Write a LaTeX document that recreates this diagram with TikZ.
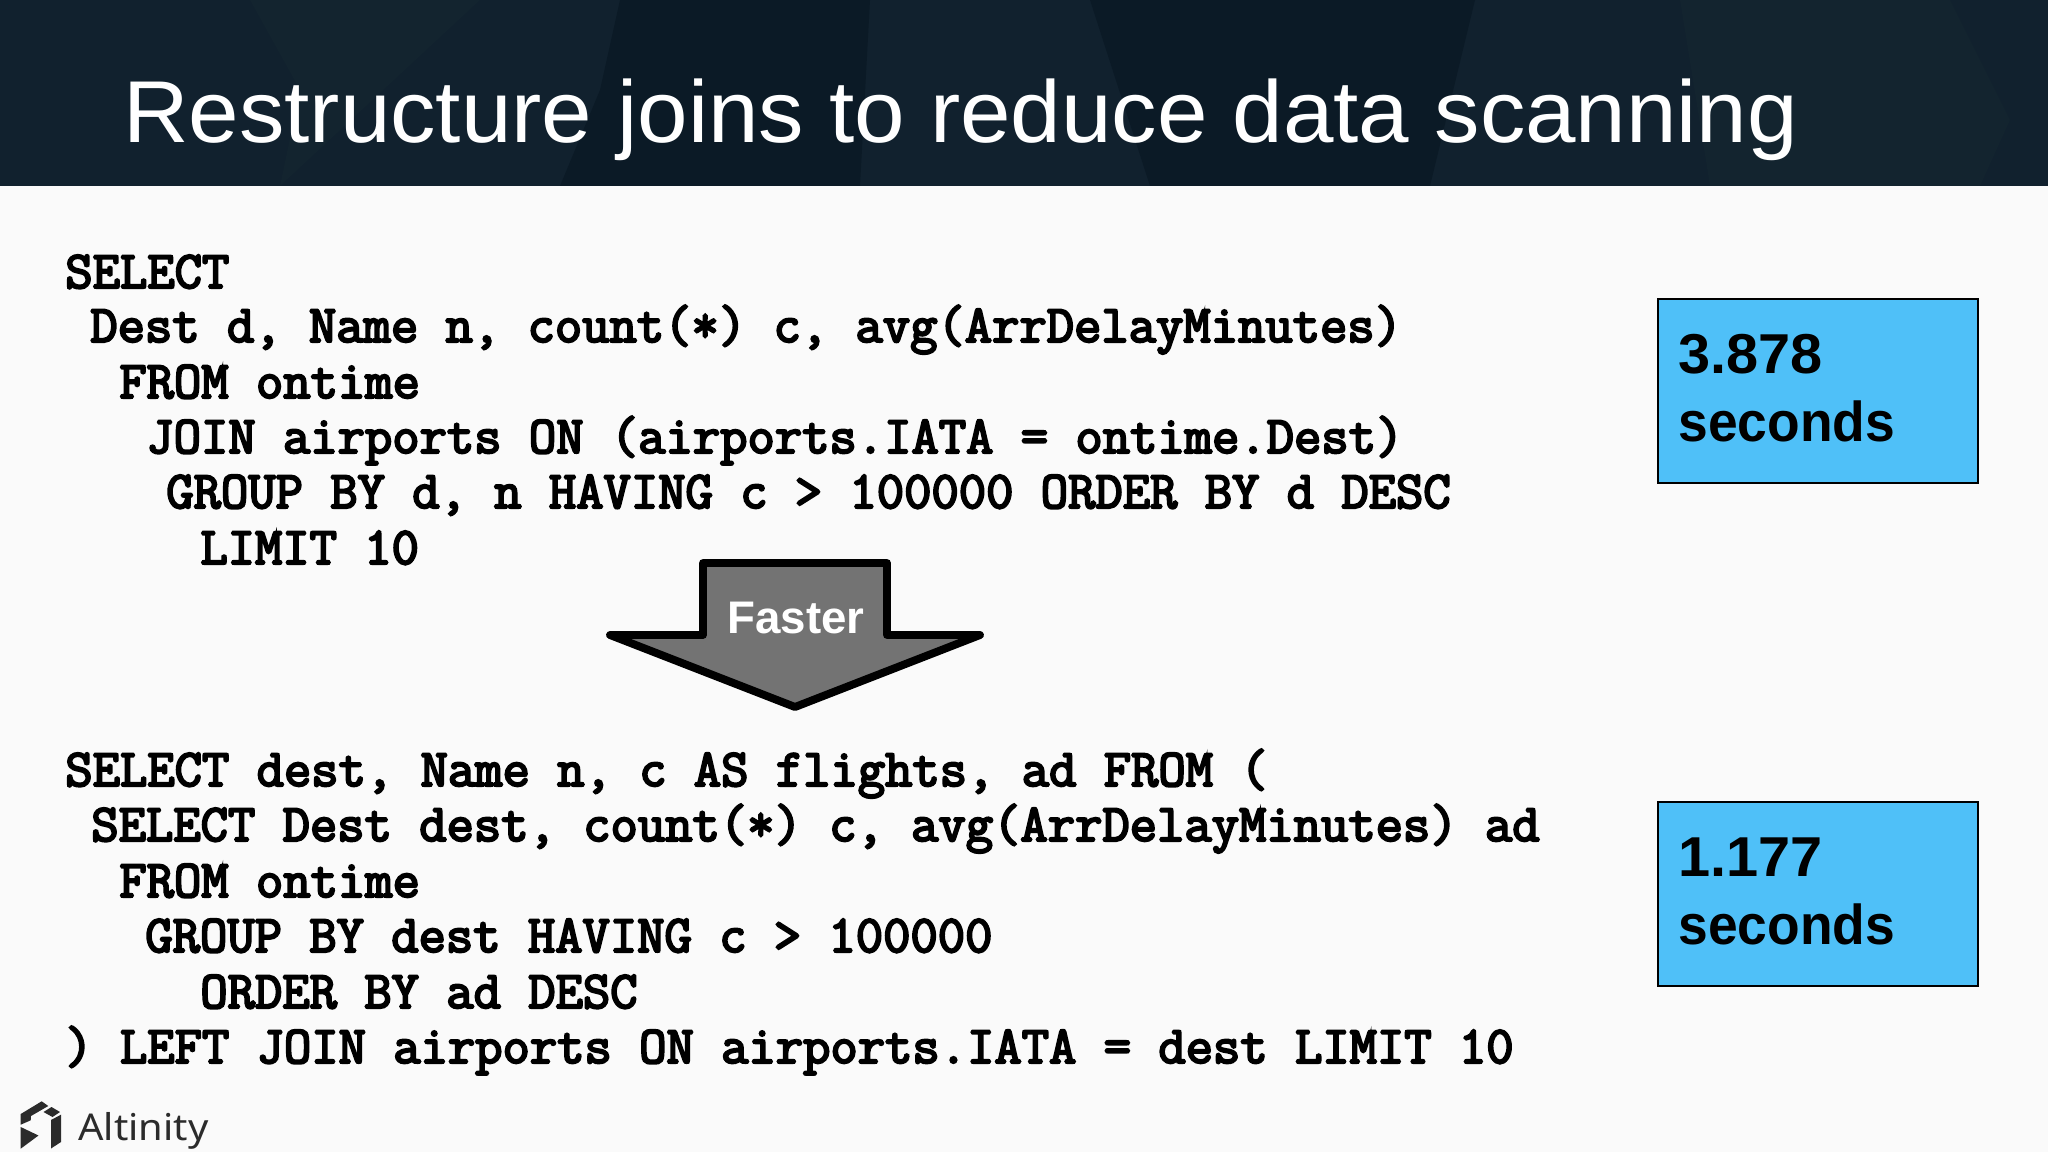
\documentclass[tikz,border=0pt]{standalone}
\usepackage{fontspec}
\usepackage{xcolor}
\setmainfont{Liberation Sans}
\newfontfamily\logofont{Noto Sans}
\newfontfamily\codefont[FakeBold=4]{Latin Modern Mono}
\definecolor{slidebg}{HTML}{FAFAFA}
\definecolor{headbg}{HTML}{11212E}
\definecolor{headdark}{HTML}{0B1A26}
\definecolor{headlight}{HTML}{13242F}
\definecolor{boxblue}{HTML}{4FC0F8}
\definecolor{arrowgray}{HTML}{737373}
\definecolor{logogray}{HTML}{2B2B2B}
\tikzset{
  codeline/.style={anchor=base west, inner sep=0, font=\fontsize{30.2}{31}\codefont},
  timebox/.style={draw=black, line width=1.2pt, fill=boxblue},
  timetext/.style={anchor=base west, inner sep=0, xscale=.95, font=\fontsize{32}{34}\bfseries},
  timedigits/.style={timetext, xscale=1.08}
}
\begin{document}
\begin{tikzpicture}[x=0.02cm, y=-0.02cm]
\useasboundingbox (0,0) rectangle (2048,1152);
\fill[slidebg] (0,0) rectangle (2048,1152);
\fill[headbg] (0,0) rectangle (2048,186);
\fill[headdark] (620,0) -- (870,0) -- (860,186) -- (560,186) -- (600,90) -- cycle;
\fill[headdark] (1090,0) -- (1475,0) -- (1430,186) -- (1150,186) -- cycle;
\fill[headlight] (250,0) -- (480,0) -- (280,186) -- (300,90) -- cycle;
\fill[headlight] (1680,0) -- (1950,0) -- (2010,120) -- (1980,186) -- (1710,186) -- cycle;
\node[anchor=base west, inner sep=0, text=white, xscale=1.033, font=\fontsize{50}{52}\selectfont] (title) at (123,143) {Restructure joins to reduce data scanning};

\node[codeline] (sela) at (65,288) {SELECT};
\node[codeline] (dest) at (90,342) {Dest d, Name n, count(*) c, avg(ArrDelayMinutes)};
\node[codeline] (froma) at (119,398) {FROM ontime};
\node[codeline] (joina) at (146,453) {JOIN airports ON (airports.IATA = ontime.Dest)};
\node[codeline] (groupa) at (166,508) {GROUP BY d, n HAVING c > 100000 ORDER BY d DESC};
\node[codeline] (limita) at (200,564) {LIMIT 10};

\draw[fill=arrowgray, line width=4.5pt, line join=round]
(703,563) -- (887,563) -- (887,635) -- (980,635) -- (795,707) -- (610,635) -- (703,635) -- cycle;
\node[anchor=base, inner sep=0, text=white, font=\fontsize{26}{27}\bfseries] (faster) at (796,633) {Faster};

\node[codeline] (selb) at (65,786) {SELECT dest, Name n, c AS flights, ad FROM (};
\node[codeline] (selc) at (91,841) {SELECT Dest dest, count(*) c, avg(ArrDelayMinutes) ad};
\node[codeline] (fromb) at (119,897) {FROM ontime};
\node[codeline] (groupb) at (145,952) {GROUP BY dest HAVING c > 100000};
\node[codeline] (orderb) at (200,1008) {ORDER BY ad DESC};
\node[codeline] (joinb) at (65,1063) {) LEFT JOIN airports ON airports.IATA = dest LIMIT 10};

\draw[timebox] (1658,299) rectangle (1978,483);
\node[timedigits] (timea) at (1678,373) {3.878};
\node[timetext] (unita) at (1678,441) {seconds};
\draw[timebox] (1658,802) rectangle (1978,986);
\node[timedigits] (timeb) at (1678,876) {1.177};
\node[timetext] (unitb) at (1678,944) {seconds};

\fill[logogray] (20.7,1114) -- (41.7,1101.3) -- (48.3,1106) -- (31,1116) -- (30.7,1120.3) -- (20.7,1124.7) -- cycle;
\fill[logogray] (43.5,1112) -- (51.5,1107) -- (60,1112) -- (52.5,1117) -- cycle;
\fill[logogray] (20.7,1127) -- (38.5,1135.5) -- (20.7,1148.7) -- cycle;
\fill[logogray] (51,1120) -- (61,1114.7) -- (61,1142) -- (51,1148.5) -- cycle;
\node[anchor=base west, inner sep=0, text=logogray, xscale=1.08, font=\logofont\fontsize{21}{23}\selectfont] (brand) at (78,1140) {Altinity};
\end{tikzpicture}
\end{document}
